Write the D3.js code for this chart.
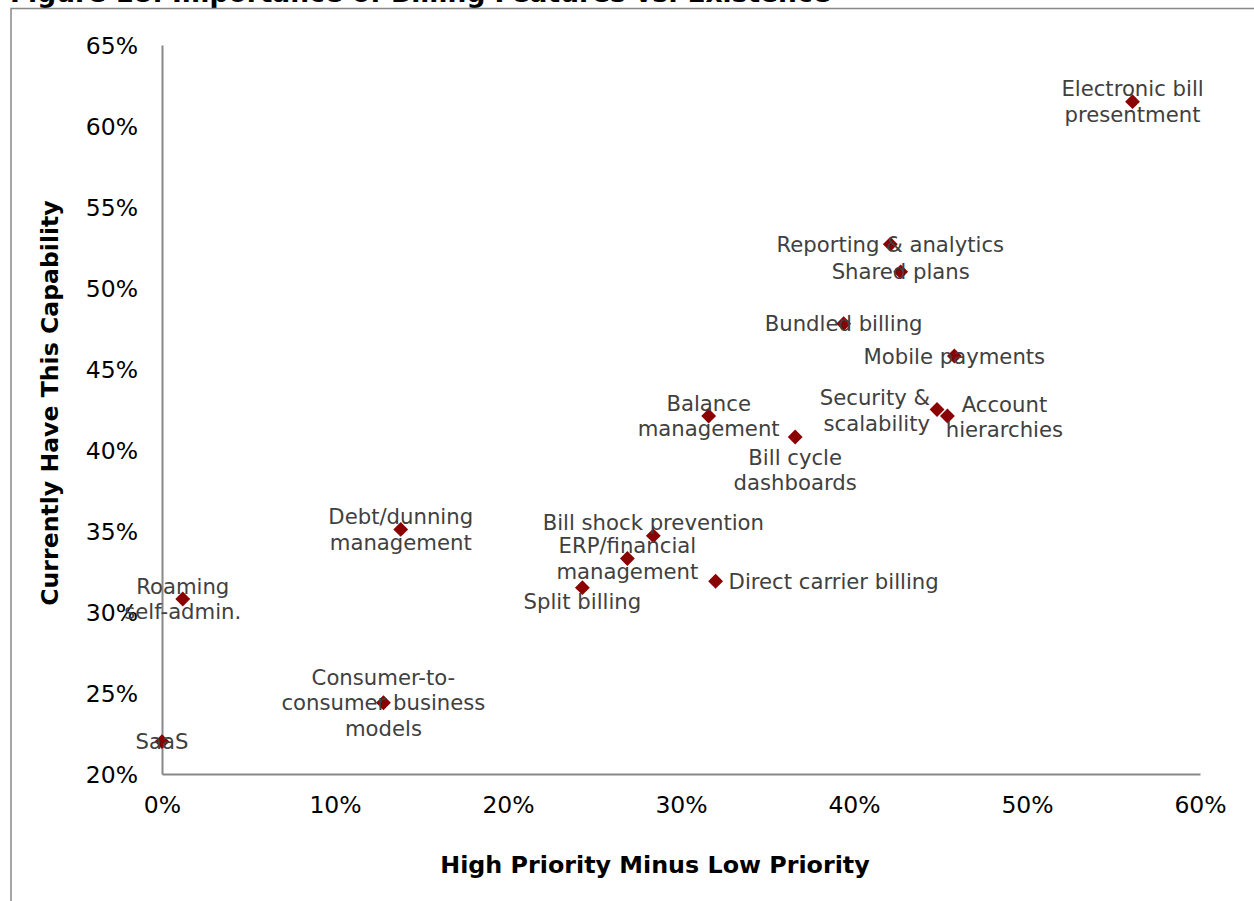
<!DOCTYPE html>
<html>
<head>
<meta charset="utf-8">
<script src="https://cdn.jsdelivr.net/npm/d3@7"></script>
<style>
  html, body { margin: 0; padding: 0; background: #fff; }
  svg { display: block; font-family: "DejaVu Sans", Verdana, sans-serif; }
</style>
</head>
<body>
<svg id="chart" width="1254" height="901"></svg>
<script>
// ---- Data ----
const titleText = "Figure 18: Importance of Billing Features vs. Existence";
const xTitle = "High Priority Minus Low Priority";
const yTitle = "Currently Have This Capability";

const features = [
  "Electronic bill\npresentment",
  "Reporting & analytics",
  "Shared plans",
  "Bundled billing",
  "Mobile payments",
  "Security &\nscalability",
  "Account\nhierarchies",
  "Balance\nmanagement",
  "Bill cycle\ndashboards",
  "Debt/dunning\nmanagement",
  "Bill shock prevention",
  "ERP/financial\nmanagement",
  "Direct carrier billing",
  "Split billing",
  "Roaming\nself-admin.",
  "Consumer-to-\nconsumer business\nmodels",
  "SaaS"
];
// High priority minus low priority (x)
const priorityGap = [0.561, 0.421, 0.427, 0.394, 0.458, 0.448, 0.454, 0.316, 0.366, 0.138, 0.284, 0.269, 0.320, 0.243, 0.012, 0.128, 0.000];
// Currently have this capability (y)
const haveShare   = [0.615, 0.527, 0.510, 0.478, 0.458, 0.425, 0.421, 0.421, 0.408, 0.351, 0.347, 0.333, 0.319, 0.315, 0.308, 0.244, 0.220];

const xTicks = [0, 0.1, 0.2, 0.3, 0.4, 0.5, 0.6];
const yTicks = [0.20, 0.25, 0.30, 0.35, 0.40, 0.45, 0.50, 0.55, 0.60, 0.65];

// ---- Label placement (layout, not data) ----
const placement = {
  "Security &\nscalability": { anchor: "end", dx: -7, dy: 1 },
  "Account\nhierarchies": { anchor: "middle", dx: 57, dy: 1 },
  "Bill cycle\ndashboards": { anchor: "middle", dx: 0, dy: 33 },
  "Bill shock prevention": { anchor: "middle", dx: 0, dy: -13 },
  "Direct carrier billing": { anchor: "start", dx: 13, dy: 0 },
  "Split billing": { anchor: "middle", dx: 0, dy: 14 },
  "Mobile payments": { anchor: "middle", dx: 0, dy: 1 }
};

// ---- Layout ----
const svg = d3.select("#chart");
const plot = { left: 162, right: 1200, top: 45, bottom: 774 };

const x = d3.scaleLinear().domain([0, 0.6]).range([plot.left, plot.right]);
const y = d3.scaleLinear().domain([0.20, 0.65]).range([plot.bottom, plot.top]);
const pct = d3.format(".0%");

// frame & title
svg.append("text")
  .attr("x", 10).attr("y", 2)
  .attr("font-weight", "bold").attr("font-size", 26.5)
  .attr("fill", "#000")
  .text(titleText);
svg.append("path")
  .attr("d", "M11,901 V8.5 H1254")
  .attr("fill", "none").attr("stroke", "#888").attr("stroke-width", 1.5);

// axes
const xAxis = svg.append("g")
  .attr("transform", `translate(0,${plot.bottom})`)
  .call(d3.axisBottom(x).tickValues(xTicks).tickFormat(pct).tickSize(0).tickPadding(22));
const yAxis = svg.append("g")
  .attr("transform", `translate(${plot.left},0)`)
  .call(d3.axisLeft(y).tickValues(yTicks).tickFormat(pct).tickSize(0).tickPadding(24));

[xAxis, yAxis].forEach(g => {
  g.select(".domain").attr("stroke", "#888").attr("stroke-width", 2);
  g.selectAll("text")
    .attr("font-family", "DejaVu Sans, Verdana, sans-serif")
    .attr("font-size", 23.5).attr("fill", "#000");
});
yAxis.selectAll("text").attr("dy", "0.36em");

// axis titles
svg.append("text")
  .attr("x", 655).attr("y", 873)
  .attr("text-anchor", "middle")
  .attr("font-weight", "bold").attr("font-size", 23.8)
  .text(xTitle);
svg.append("text")
  .attr("transform", "translate(58,403) rotate(-90)")
  .attr("text-anchor", "middle")
  .attr("font-weight", "bold").attr("font-size", 23.6)
  .text(yTitle);

// points
const pts = features.map((name, i) => ({ name, gx: priorityGap[i], hv: haveShare[i] }));

svg.append("g").selectAll("path")
  .data(pts)
  .join("path")
  .attr("d", d3.symbol().type(d3.symbolSquare).size(110))
  .attr("transform", d => `translate(${x(d.gx)},${y(d.hv)}) rotate(45)`)
  .attr("fill", "#8B0000");

// labels
const lineH = 25.5;
const lab = svg.append("g")
  .attr("font-size", 21.2).attr("fill", "#404040");
pts.forEach(d => {
  const p = placement[d.name] || { anchor: "middle", dx: 0, dy: 0 };
  const lines = d.name.split("\n");
  const cx = x(d.gx) + p.dx;
  const cy = y(d.hv) + p.dy;
  const t = lab.append("text")
    .attr("text-anchor", p.anchor)
    .attr("x", cx);
  lines.forEach((ln, k) => {
    t.append("tspan")
      .attr("x", cx)
      .attr("y", cy + (k - (lines.length - 1) / 2) * lineH)
      .attr("dy", "0.35em")
      .text(ln);
  });
});
</script>
</body>
</html>
